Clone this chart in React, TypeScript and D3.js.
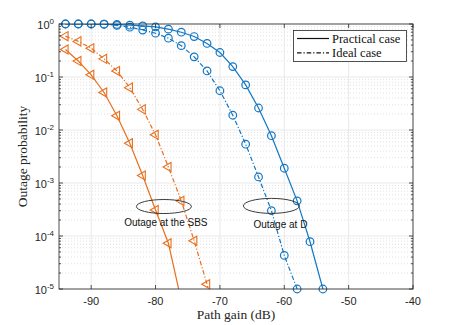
import React, { useEffect, useRef } from "react";
import * as d3 from "d3";

const gain = [-94, -92, -90, -88, -86, -84, -82, -80, -78, -76, -74, -72, -70, -68, -66, -64, -62, -60, -58, -56, -54];

// outage at D (blue)
const dPractical = [1, 1, 1, 0.99, 0.98, 0.95, 0.92, 0.88, 0.8, 0.7, 0.58, 0.43, 0.29, 0.157, 0.071, 0.026, 0.0078, 0.0019, 4.6e-4, 7.8e-5, 1e-5];
const dIdeal = [1, 1, 1, 0.99, 0.94, 0.87, 0.77, 0.67, 0.54, 0.39, 0.24, 0.13, 0.055, 0.019, 0.0054, 0.0013, 3.0e-4, 4.3e-5, 1e-5];

// outage at the SBS (orange)
const sbsPractical = [0.33, 0.2, 0.11, 0.051, 0.0186, 0.0056, 0.00138, 3.1e-4, 7.3e-5, 6e-6];
const sbsIdeal = [0.59, 0.47, 0.35, 0.22, 0.13, 0.063, 0.0245, 0.0081, 0.002, 4.6e-4, 8.1e-5, 1.23e-5, 2e-6];

const xTicks = [-90, -80, -70, -60, -50, -40];
const yTicks = [0, -1, -2, -3, -4, -5];
const legendItems = ["Practical case", "Ideal case"];

const blue = "#1377C4";
const orange = "#E8701F";
const axisColor = "#262626";
const dashDot = "4.5,2,1.2,2";

export default function App() {
  const ref = useRef<SVGSVGElement>(null);

  useEffect(() => {
    const width = 457,
      height = 325;
    const left = 59,
      right = 413,
      top = 24,
      bottom = 289;
    const svg = d3.select(ref.current);
    svg.selectAll("*").remove();

    svg.append("rect").attr("width", width).attr("height", height).attr("fill", "#fff");

    const x = d3.scaleLinear().domain([-95, -40]).range([left, right]);
    const y = d3.scaleLog().domain([1e-5, 1]).range([bottom, top]);

    svg
      .append("clipPath")
      .attr("id", "plot-clip")
      .append("rect")
      .attr("x", left)
      .attr("y", top)
      .attr("width", right - left)
      .attr("height", bottom - top);

    // grid
    const grid = svg.append("g");
    for (let e = -5; e < 0; e++) {
      for (let m = 2; m <= 9; m++) {
        grid
          .append("line")
          .attr("x1", left)
          .attr("x2", right)
          .attr("y1", y(m * Math.pow(10, e)))
          .attr("y2", y(m * Math.pow(10, e)))
          .attr("stroke", "#cfcfcf")
          .attr("stroke-width", 0.6)
          .attr("stroke-dasharray", "1,2");
      }
    }
    yTicks.forEach((e) => {
      grid
        .append("line")
        .attr("x1", left)
        .attr("x2", right)
        .attr("y1", y(Math.pow(10, e)))
        .attr("y2", y(Math.pow(10, e)))
        .attr("stroke", "#e3e3e3")
        .attr("stroke-width", 0.8);
    });
    xTicks.forEach((t) => {
      grid
        .append("line")
        .attr("x1", x(t))
        .attr("x2", x(t))
        .attr("y1", top)
        .attr("y2", bottom)
        .attr("stroke", "#e3e3e3")
        .attr("stroke-width", 0.8);
    });

    // curves
    const series = [
      { vals: dPractical, color: blue, dash: null, marker: "o" },
      { vals: dIdeal, color: blue, dash: dashDot, marker: "o" },
      { vals: sbsPractical, color: orange, dash: null, marker: "<" },
      { vals: sbsIdeal, color: orange, dash: dashDot, marker: "<" },
    ];

    const line = d3
      .line<[number, number]>()
      .x((d) => x(d[0]))
      .y((d) => y(d[1]));

    const tri = d3.symbol().type(d3.symbolTriangle).size(36)();

    series.forEach((s) => {
      const pts: [number, number][] = s.vals.map((v, i) => [gain[i], v]);
      svg
        .append("path")
        .datum(pts)
        .attr("clip-path", "url(#plot-clip)")
        .attr("fill", "none")
        .attr("stroke", s.color)
        .attr("stroke-width", 1.2)
        .attr("stroke-dasharray", s.dash)
        .attr("d", line);

      const shown = pts.filter((d) => d[1] >= 0.999e-5);
      if (s.marker === "o") {
        svg
          .append("g")
          .selectAll("circle")
          .data(shown)
          .join("circle")
          .attr("cx", (d) => x(d[0]))
          .attr("cy", (d) => y(d[1]))
          .attr("r", 3.8)
          .attr("fill", "none")
          .attr("stroke", s.color)
          .attr("stroke-width", 1.2);
      } else {
        svg
          .append("g")
          .selectAll("path")
          .data(shown)
          .join("path")
          .attr("d", tri)
          .attr("transform", (d) => `translate(${x(d[0])},${y(d[1])}) rotate(-90)`)
          .attr("fill", "none")
          .attr("stroke", s.color)
          .attr("stroke-width", 1.1);
      }
    });

    // axes box and ticks
    const ax = svg.append("g").attr("stroke", axisColor).attr("stroke-width", 0.8);
    ax.append("rect")
      .attr("x", left)
      .attr("y", top)
      .attr("width", right - left)
      .attr("height", bottom - top)
      .attr("fill", "none");
    xTicks.forEach((t) => {
      ax.append("line").attr("x1", x(t)).attr("x2", x(t)).attr("y1", bottom).attr("y2", bottom - 4);
      ax.append("line").attr("x1", x(t)).attr("x2", x(t)).attr("y1", top).attr("y2", top + 4);
    });
    for (let e = -5; e <= 0; e++) {
      ax.append("line").attr("x1", left).attr("x2", left + 4).attr("y1", y(Math.pow(10, e))).attr("y2", y(Math.pow(10, e)));
      ax.append("line").attr("x1", right).attr("x2", right - 4).attr("y1", y(Math.pow(10, e))).attr("y2", y(Math.pow(10, e)));
      if (e < 0) {
        for (let m = 2; m <= 9; m++) {
          const yy = y(m * Math.pow(10, e));
          ax.append("line").attr("x1", left).attr("x2", left + 2).attr("y1", yy).attr("y2", yy);
          ax.append("line").attr("x1", right).attr("x2", right - 2).attr("y1", yy).attr("y2", yy);
        }
      }
    }

    // tick labels
    const tickFont = "'Liberation Sans', Arial, sans-serif";
    svg
      .append("g")
      .selectAll("text")
      .data(xTicks)
      .join("text")
      .attr("x", (d) => x(d))
      .attr("y", bottom + 16)
      .attr("text-anchor", "middle")
      .attr("font-family", tickFont)
      .attr("font-size", 11)
      .attr("fill", axisColor)
      .text((d) => d);

    yTicks.forEach((e) => {
      const t = svg
        .append("text")
        .attr("x", left - 5)
        .attr("y", y(Math.pow(10, e)) + 5)
        .attr("text-anchor", "end")
        .attr("font-family", tickFont)
        .attr("font-size", 11)
        .attr("fill", axisColor);
      t.append("tspan").text("10");
      t.append("tspan").attr("dy", -5).attr("font-size", 8).text(e === 0 ? "0" : `-${-e}`);
    });

    // axis labels
    const serif = "'Liberation Serif', 'Times New Roman', serif";
    svg
      .append("text")
      .attr("x", (left + right) / 2)
      .attr("y", 319)
      .attr("text-anchor", "middle")
      .attr("font-family", serif)
      .attr("font-size", 13.5)
      .attr("fill", axisColor)
      .text("Path gain (dB)");
    svg
      .append("text")
      .attr("transform", `translate(27,${(top + bottom) / 2}) rotate(-90)`)
      .attr("text-anchor", "middle")
      .attr("font-family", serif)
      .attr("font-size", 13.5)
      .attr("fill", axisColor)
      .text("Outage probability");

    // annotations
    const notes = [
      { cx: x(-78.7), cy: y(3.6e-4), rx: 27.5, ry: 7, tx: x(-78.4), ty: 226, label: "Outage at the SBS" },
      { cx: x(-62), cy: y(3.7e-4), rx: 28, ry: 7.5, tx: x(-60.6), ty: 228, label: "Outage at D" },
    ];
    notes.forEach((n) => {
      svg
        .append("ellipse")
        .attr("cx", n.cx)
        .attr("cy", n.cy)
        .attr("rx", n.rx)
        .attr("ry", n.ry)
        .attr("fill", "none")
        .attr("stroke", axisColor)
        .attr("stroke-width", 0.9);
      svg
        .append("text")
        .attr("x", n.tx)
        .attr("y", n.ty)
        .attr("text-anchor", "middle")
        .attr("font-family", tickFont)
        .attr("font-size", 10)
        .attr("fill", "#111")
        .text(n.label);
    });

    // legend
    const lg = svg.append("g");
    lg.append("rect")
      .attr("x", 293.5)
      .attr("y", 30.5)
      .attr("width", 113)
      .attr("height", 31)
      .attr("fill", "#fff")
      .attr("stroke", axisColor)
      .attr("stroke-width", 0.8);
    legendItems.forEach((label, i) => {
      const yy = 38.5 + i * 14.3;
      lg.append("line")
        .attr("x1", 297)
        .attr("x2", 329)
        .attr("y1", yy)
        .attr("y2", yy)
        .attr("stroke", "#111")
        .attr("stroke-width", 1.2)
        .attr("stroke-dasharray", i === 0 ? null : dashDot);
      lg.append("text")
        .attr("x", 332)
        .attr("y", yy + 4)
        .attr("font-family", serif)
        .attr("font-size", 12.5)
        .attr("fill", "#111")
        .text(label);
    });
  }, []);

  return (
    <svg
      ref={ref}
      width={457}
      height={325}
      style={{ position: "absolute", left: 0, top: 0 }}
    />
  );
}
